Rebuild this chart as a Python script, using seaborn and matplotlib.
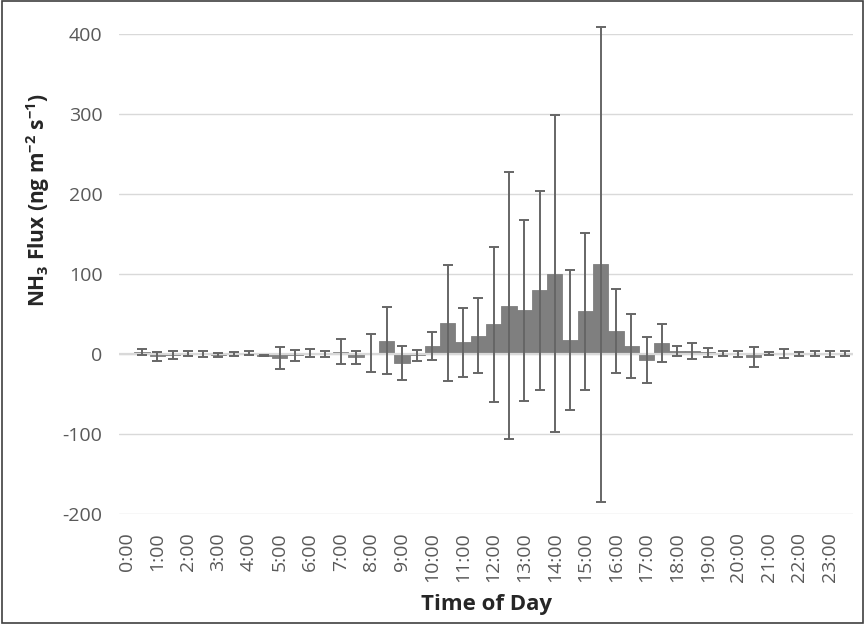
import numpy as np
import pandas as pd
import matplotlib
matplotlib.use('Agg')
import matplotlib.pyplot as plt
from matplotlib.patches import Rectangle
import seaborn as sns

# half-hourly time of day categories
times = ['0:00', '0:30', '1:00', '1:30', '2:00', '2:30', '3:00', '3:30',
         '4:00', '4:30', '5:00', '5:30', '6:00', '6:30', '7:00', '7:30',
         '8:00', '8:30', '9:00', '9:30', '10:00', '10:30', '11:00', '11:30',
         '12:00', '12:30', '13:00', '13:30', '14:00', '14:30', '15:00', '15:30',
         '16:00', '16:30', '17:00', '17:30', '18:00', '18:30', '19:00', '19:30',
         '20:00', '20:30', '21:00', '21:30', '22:00', '22:30', '23:00', '23:30']

# mean NH3 flux (ng m-2 s-1), first slot has no data
flux = [np.nan, 2.3, -2.9, -1.2, 0.4, -0.4, -1.2, 0.0,
        1.0, -2.0, -5.2, -1.7, 1.2, -0.2, 2.9, -4.0,
        1.5, 16.5, -11.0, -1.5, 10.0, 38.5, 14.5, 23.0,
        37.0, 60.5, 54.5, 79.5, 100.5, 17.5, 53.5, 112.0,
        29.0, 10.0, -7.0, 14.0, 3.8, 3.5, 2.3, 0.6,
        -0.2, -4.2, 0.4, 0.4, -0.2, 0.6, 0.0, 0.8]

# error bar half widths
flux_err = [np.nan, 3.5, 5.4, 4.6, 2.9, 3.8, 2.9, 2.5,
            2.7, 1.0, 13.5, 6.7, 4.6, 4.0, 15.4, 7.9,
            24.0, 42.0, 21.3, 7.0, 18.0, 72.7, 43.0, 46.7,
            96.5, 166.7, 112.7, 124.0, 198.5, 88.0, 98.0, 297.0,
            52.7, 40.0, 28.8, 24.0, 6.2, 9.8, 5.6, 3.1,
            4.0, 12.5, 2.1, 5.4, 2.3, 3.5, 4.2, 3.3]

yticks = [-200, -100, 0, 100, 200, 300, 400]

df = pd.DataFrame({'time': times, 'flux': flux, 'err': flux_err})

sns.set_style('white')
plt.rcParams['font.family'] = ['Open Sans', 'DejaVu Sans']
plt.rcParams['axes.unicode_minus'] = False
plt.rcParams['mathtext.fontset'] = 'custom'
plt.rcParams['mathtext.rm'] = 'Open Sans'
plt.rcParams['mathtext.bf'] = 'Open Sans:bold'

fig = plt.figure(figsize=(8.65, 6.24), dpi=100)
ax = fig.add_axes([0.1376, 0.1763, 0.8485, 0.7692])

sns.barplot(data=df, x='time', y='flux', order=times, color='#7f7f7f',
            saturation=1, width=1.0, errorbar=None, ax=ax, zorder=2,
            edgecolor='#7f7f7f', linewidth=0.6)
ax.errorbar(np.arange(len(times)), df['flux'], yerr=df['err'], fmt='none',
            ecolor='#666666', elinewidth=1.4, capsize=3.4, capthick=1.4,
            zorder=4, clip_on=False)

ax.axhline(0, color='#d9d9d9', lw=1.6, zorder=3)
ax.set_ylim(-200, 400)
ax.set_xlim(-0.5, len(times) - 0.5)
ax.set_yticks(yticks)
ax.yaxis.grid(True, color='#d9d9d9', lw=1)
ax.set_axisbelow(True)
for s in ax.spines.values():
    s.set_visible(False)

ax.set_xticks(range(0, len(times), 2))
ax.set_xticklabels(times[::2], rotation=90)
ax.tick_params(axis='y', length=0, pad=12, labelsize=14, labelcolor='#595959')
ax.tick_params(axis='x', length=0, pad=13, labelsize=14, labelcolor='#595959')

ax.set_xlabel('Time of Day', fontsize=16, fontweight='bold')
ax.xaxis.set_label_coords(0.5, -0.188)
ax.set_ylabel(r'NH$_\mathbf{3}$ Flux (ng m$^{\mathbf{-2}}$ s$^{\mathbf{-1}}$)',
              fontsize=15, fontweight='bold')
ax.yaxis.set_label_coords(-0.110, 0.654)
ax.yaxis.label.set_verticalalignment('center')
ax.xaxis.label.set_verticalalignment('center')

fig.patches.append(Rectangle((0.002, 0.002), 0.996, 0.996, transform=fig.transFigure,
                             fill=False, edgecolor='#404040', lw=1.2))

fig.savefig('out.png', dpi=100)
